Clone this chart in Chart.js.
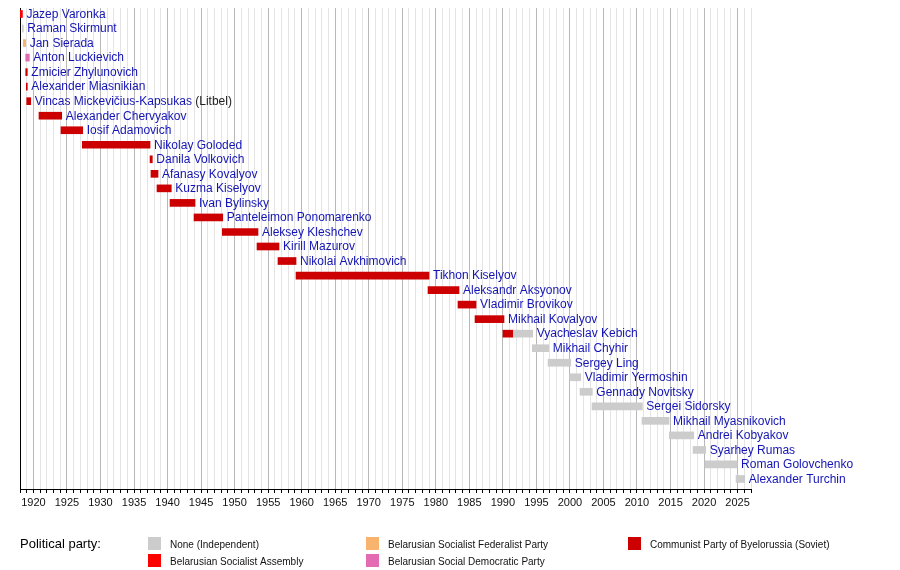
<!DOCTYPE html>
<html>
<head>
<meta charset="utf-8">
<title>Chairmen of the Council of Ministers of Belarus</title>
<script src="https://cdn.jsdelivr.net/npm/chart.js@4.4.1/dist/chart.umd.min.js"></script>
<style>
  html, body { margin: 0; padding: 0; background: #fff; }
  #wrap { width: 900px; height: 570px; }
</style>
</head>
<body>
<div id="wrap"><canvas id="timeline" width="900" height="570"></canvas></div>
<script>
// one row per head of government, top to bottom
const leaders = [
  'Jazep Varonka', 'Raman Skirmunt', 'Jan Sierada', 'Anton Luckievich',
  'Zmicier Zhylunovich', 'Alexander Miasnikian', 'Vincas Mickevičius-Kapsukas',
  'Alexander Chervyakov', 'Iosif Adamovich', 'Nikolay Goloded', 'Danila Volkovich',
  'Afanasy Kovalyov', 'Kuzma Kiselyov', 'Ivan Bylinsky', 'Panteleimon Ponomarenko',
  'Aleksey Kleshchev', 'Kirill Mazurov', 'Nikolai Avkhimovich', 'Tikhon Kiselyov',
  'Aleksandr Aksyonov', 'Vladimir Brovikov', 'Mikhail Kovalyov', 'Vyacheslav Kebich',
  'Mikhail Chyhir', 'Sergey Ling', 'Vladimir Yermoshin', 'Gennady Novitsky',
  'Sergei Sidorsky', 'Mikhail Myasnikovich', 'Andrei Kobyakov', 'Syarhey Rumas',
  'Roman Golovchenko', 'Alexander Turchin'
];
const leaderNotes = { 6: ' (Litbel)' };

// term segments (Kebich has two: Communist, then independent)
const segRow = [0, 1, 2, 3, 4, 5, 6, 7, 8, 9, 10, 11, 12, 13, 14, 15, 16, 17, 18,
  19, 20, 21, 22, 22, 23, 24, 25, 26, 27, 28, 29, 30, 31, 32];
const segStart = [1918.0, 1918.34, 1918.49, 1918.85, 1918.85, 1918.94, 1919.0,
  1920.83, 1924.11, 1927.29, 1937.39, 1937.53, 1938.43, 1940.37, 1943.95, 1948.17,
  1953.34, 1956.47, 1959.16, 1978.84, 1983.31, 1985.85, 1990.02, 1991.56, 1994.39,
  1996.74, 1999.97, 2001.5, 2003.3, 2010.75, 2014.82, 2018.36, 2020.15, 2024.77];
const segEnd = [1918.36, 1918.49, 1918.85, 1919.39, 1919.09, 1919.09, 1919.6,
  1924.22, 1927.35, 1937.39, 1937.73, 1938.58, 1940.56, 1944.1, 1948.23, 1953.49,
  1956.62, 1959.16, 1978.99, 1983.46, 1986.0, 1990.17, 1991.56, 1994.45, 1996.84,
  2000.12, 2001.61, 2003.34, 2010.8, 2014.78, 2018.46, 2020.25, 2024.92, 2026.07];
const segParty = ['BSA', 'IND', 'BSFP', 'BSDP', 'CPB', 'CPB', 'CPB',
  'CPB', 'CPB', 'CPB', 'CPB', 'CPB', 'CPB', 'CPB', 'CPB', 'CPB', 'CPB', 'CPB', 'CPB',
  'CPB', 'CPB', 'CPB', 'CPB', 'IND', 'IND', 'IND', 'IND', 'IND', 'IND', 'IND', 'IND',
  'IND', 'IND', 'IND'];

const partyKeys = ['IND', 'BSA', 'BSFP', 'BSDP', 'CPB'];
const partyNames = ['None (Independent)', 'Belarusian Socialist Assembly',
  'Belarusian Socialist Federalist Party', 'Belarusian Social Democratic Party',
  'Communist Party of Byelorussia (Soviet)'];
const partyColors = ['#cccccc', '#ff0000', '#f8b46c', '#e36bb3', '#cc0000'];

const yearMin = 1918;
const yearMax = 2027;

const FONT = "'Liberation Sans', Arial, Helvetica, sans-serif";

var datasets = partyKeys.map(function (key, p) {
  var pts = [];
  for (var i = 0; i < segRow.length; i++) {
    if (segParty[i] === key) pts.push({ y: segRow[i], x: [segStart[i], segEnd[i]] });
  }
  return {
    label: partyNames[p],
    data: pts,
    backgroundColor: partyColors[p],
    borderWidth: 0,
    barThickness: 7,
    grouped: false
  };
});

// end of each row's last segment, for the name labels
var rowEnd = leaders.map(function (n, r) {
  var e = -Infinity;
  for (var i = 0; i < segRow.length; i++) if (segRow[i] === r) e = Math.max(e, segEnd[i]);
  return e;
});

const namesPlugin = {
  id: 'names',
  afterDatasetsDraw: function (chart) {
    var ctx = chart.ctx, xs = chart.scales.x, ys = chart.scales.y;
    ctx.save();
    ctx.font = '12px ' + FONT;
    ctx.textBaseline = 'middle';
    ctx.textAlign = 'left';
    leaders.forEach(function (name, r) {
      var x = xs.getPixelForValue(rowEnd[r]) + 4;
      var y = ys.getPixelForValue(r) + 0.5;
      ctx.fillStyle = '#1414b4';
      ctx.fillText(name, x, y);
      if (leaderNotes[r]) {
        var w = ctx.measureText(name).width;
        ctx.fillStyle = '#222222';
        ctx.fillText(leaderNotes[r], x + w, y);
      }
    });
    ctx.restore();
  }
};

const legendPlugin = {
  id: 'partyLegend',
  afterDraw: function (chart) {
    var ctx = chart.ctx;
    ctx.save();
    ctx.textBaseline = 'middle';
    ctx.textAlign = 'left';
    ctx.fillStyle = '#000';
    ctx.font = '13px ' + FONT;
    ctx.fillText('Political party:', 20, 544);
    var colX = [148, 366, 628];
    var rowY = [537, 554];
    var place = [[0, 0], [0, 1], [1, 0], [1, 1], [2, 0]];
    ctx.font = '10px ' + FONT;
    partyKeys.forEach(function (k, p) {
      var cx = colX[place[p][0]], cy = rowY[place[p][1]];
      ctx.fillStyle = partyColors[p];
      ctx.fillRect(cx, cy, 13, 13);
      ctx.fillStyle = '#111';
      ctx.fillText(partyNames[p], cx + 22, cy + 8);
    });
    ctx.restore();
  }
};

new Chart(document.getElementById('timeline'), {
  type: 'bar',
  data: { datasets: datasets },
  plugins: [namesPlugin, legendPlugin],
  options: {
    indexAxis: 'y',
    responsive: false,
    animation: false,
    devicePixelRatio: 1,
    layout: { padding: { left: 20, right: 149, top: 8, bottom: 51 } },
    plugins: { legend: { display: false }, tooltip: { enabled: false } },
    scales: {
      x: {
        type: 'linear',
        min: yearMin,
        max: yearMax,
        afterFit: function (scale) { scale.height = 30; },
        ticks: {
          stepSize: 1,
          autoSkip: false,
          maxRotation: 0,
          padding: 3,
          color: '#111',
          font: { family: FONT, size: 11 },
          callback: function (v) { return v % 5 === 0 ? String(v) : ''; }
        },
        grid: {
          color: function (c) {
            var v = c.tick ? c.tick.value : 0;
            if (v === yearMin) return '#000000';
            return v % 5 === 0 ? '#b8b8b8' : '#e4e4e4';
          },
          lineWidth: 1,
          tickLength: 4,
          tickColor: '#000'
        },
        border: { display: true, color: '#000', width: 1 }
      },
      y: {
        type: 'linear',
        reverse: true,
        offset: false,
        min: -0.413,
        max: 32.69,
        display: false
      }
    }
  }
});
</script>
</body>
</html>
